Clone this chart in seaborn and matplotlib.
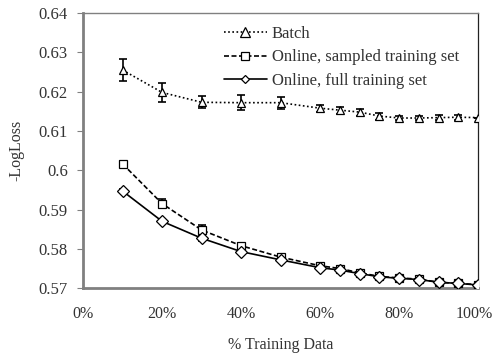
import numpy as np
import matplotlib
matplotlib.use("Agg")
import matplotlib.pyplot as plt
import matplotlib.transforms as mtransforms
import seaborn as sns
import pandas as pd

# Values
pct = [10, 20, 30, 40, 50, 60, 65, 70, 75, 80, 85, 90, 95, 100]
batch = [0.6255, 0.6198, 0.6173, 0.6172, 0.6172, 0.6158, 0.6153, 0.6148, 0.6138,
         0.6133, 0.6133, 0.6134, 0.6135, 0.6134]
batch_err = [0.0029, 0.0024, 0.0015, 0.0019, 0.0015, 0.0009, 0.0009, 0.0009, 0.0009,
             0.0006, 0.0006, 0.0006, 0.0006, 0.0]
sampled = [0.6016, 0.5915, 0.5848, 0.5808, 0.5779, 0.5757, 0.5750, 0.5739, 0.5730,
           0.5726, 0.5723, 0.5715, 0.5712, 0.5709]
sampled_err = [0.0008, 0.0012, 0.0012, 0.0008, 0.0007, 0.0007, 0.0007, 0.0007, 0.0006,
               0.0006, 0.0006, 0.0006, 0.0006, 0.0006]
full = [0.5947, 0.5870, 0.5827, 0.5793, 0.5772, 0.5752, 0.5746, 0.5737, 0.5729,
        0.5725, 0.5722, 0.5715, 0.5712, 0.5708]
full_err = [0.0005, 0.0005, 0.0006, 0.0005, 0.0005, 0.0005, 0.0005, 0.0005, 0.0005,
            0.0004, 0.0004, 0.0004, 0.0004, 0.0004]

names = ["Batch", "Online, sampled training set", "Online, full training set"]
series = [batch, sampled, full]
errors = [batch_err, sampled_err, full_err]

df = pd.concat([pd.DataFrame({"pct": pct, "val": s, "err": e, "method": n})
                for n, s, e in zip(names, series, errors)], ignore_index=True)

sns.set_style("white")
plt.rcParams["font.family"] = ["Liberation Serif", "DejaVu Serif"]

fig = plt.figure(figsize=(4.95, 3.54), dpi=100)
ax = fig.add_axes([0.168, 0.186, 0.798, 0.777])

for n in names:
    sub = df[df["method"] == n]
    ax.errorbar(sub["pct"], sub["val"], yerr=sub["err"], fmt="none",
                ecolor="black", elinewidth=1.2, capsize=3, capthick=1.2, zorder=3)

sns.lineplot(data=df, x="pct", y="val", hue="method", style="method",
             palette=["black"] * 3,
             dashes={names[0]: (1, 1.5), names[1]: (3, 1.5), names[2]: ""},
             markers={names[0]: "^", names[1]: "s", names[2]: "D"},
             markersize=6, markerfacecolor="white", markeredgecolor="black",
             markeredgewidth=0.9, linewidth=1.2, ax=ax, zorder=4)

sizes = {names[0]: 6.5, names[1]: 5.5, names[2]: 4}
for ln in ax.get_lines():
    if ln.get_label() in sizes:
        ln.set_markersize(sizes[ln.get_label()])

ax.set_xlim(0, 100)
ax.set_ylim(0.57, 0.64)
ax.set_xticks([0, 20, 40, 60, 80, 100])
ax.set_xticklabels(["0%", "20%", "40%", "60%", "80%", "100%"])
ax.set_yticks(np.arange(0.57, 0.6401, 0.01))
ax.set_yticklabels(["0.57", "0.58", "0.59", "0.6", "0.61", "0.62", "0.63", "0.64"])
ax.tick_params(axis="x", direction="in", length=4, color="#808080", pad=13,
               labelsize=11.5, labelcolor="#333333")
ax.tick_params(axis="y", direction="out", length=4, color="#808080", pad=7,
               labelsize=12, labelcolor="#333333", left=True)
ax.set_xlabel("% Training Data", fontsize=11.5, color="#333333", labelpad=11)
ax.set_ylabel("-LogLoss", fontsize=11.5, color="#333333", labelpad=10)

# nudge the last x label so it stays inside the canvas
last = ax.get_xticklabels()[-1]
last.set_transform(last.get_transform() +
                   mtransforms.ScaledTranslation(-4 / 100, 0, fig.dpi_scale_trans))

for side in ["left", "bottom"]:
    ax.spines[side].set_color("#808080")
    ax.spines[side].set_linewidth(2)
ax.spines["top"].set_color("#808080")
ax.spines["top"].set_linewidth(1)
ax.spines["right"].set_color("#222222")
ax.spines["right"].set_linewidth(0.9)

leg = ax.legend(loc="upper left", bbox_to_anchor=(0.33, 0.99), frameon=False,
                fontsize=12, handlelength=2.6, handletextpad=0.3, labelspacing=0.45,
                borderaxespad=0.2)
for txt in leg.get_texts():
    txt.set_color("#333333")

fig.savefig("out.png", dpi=100)
